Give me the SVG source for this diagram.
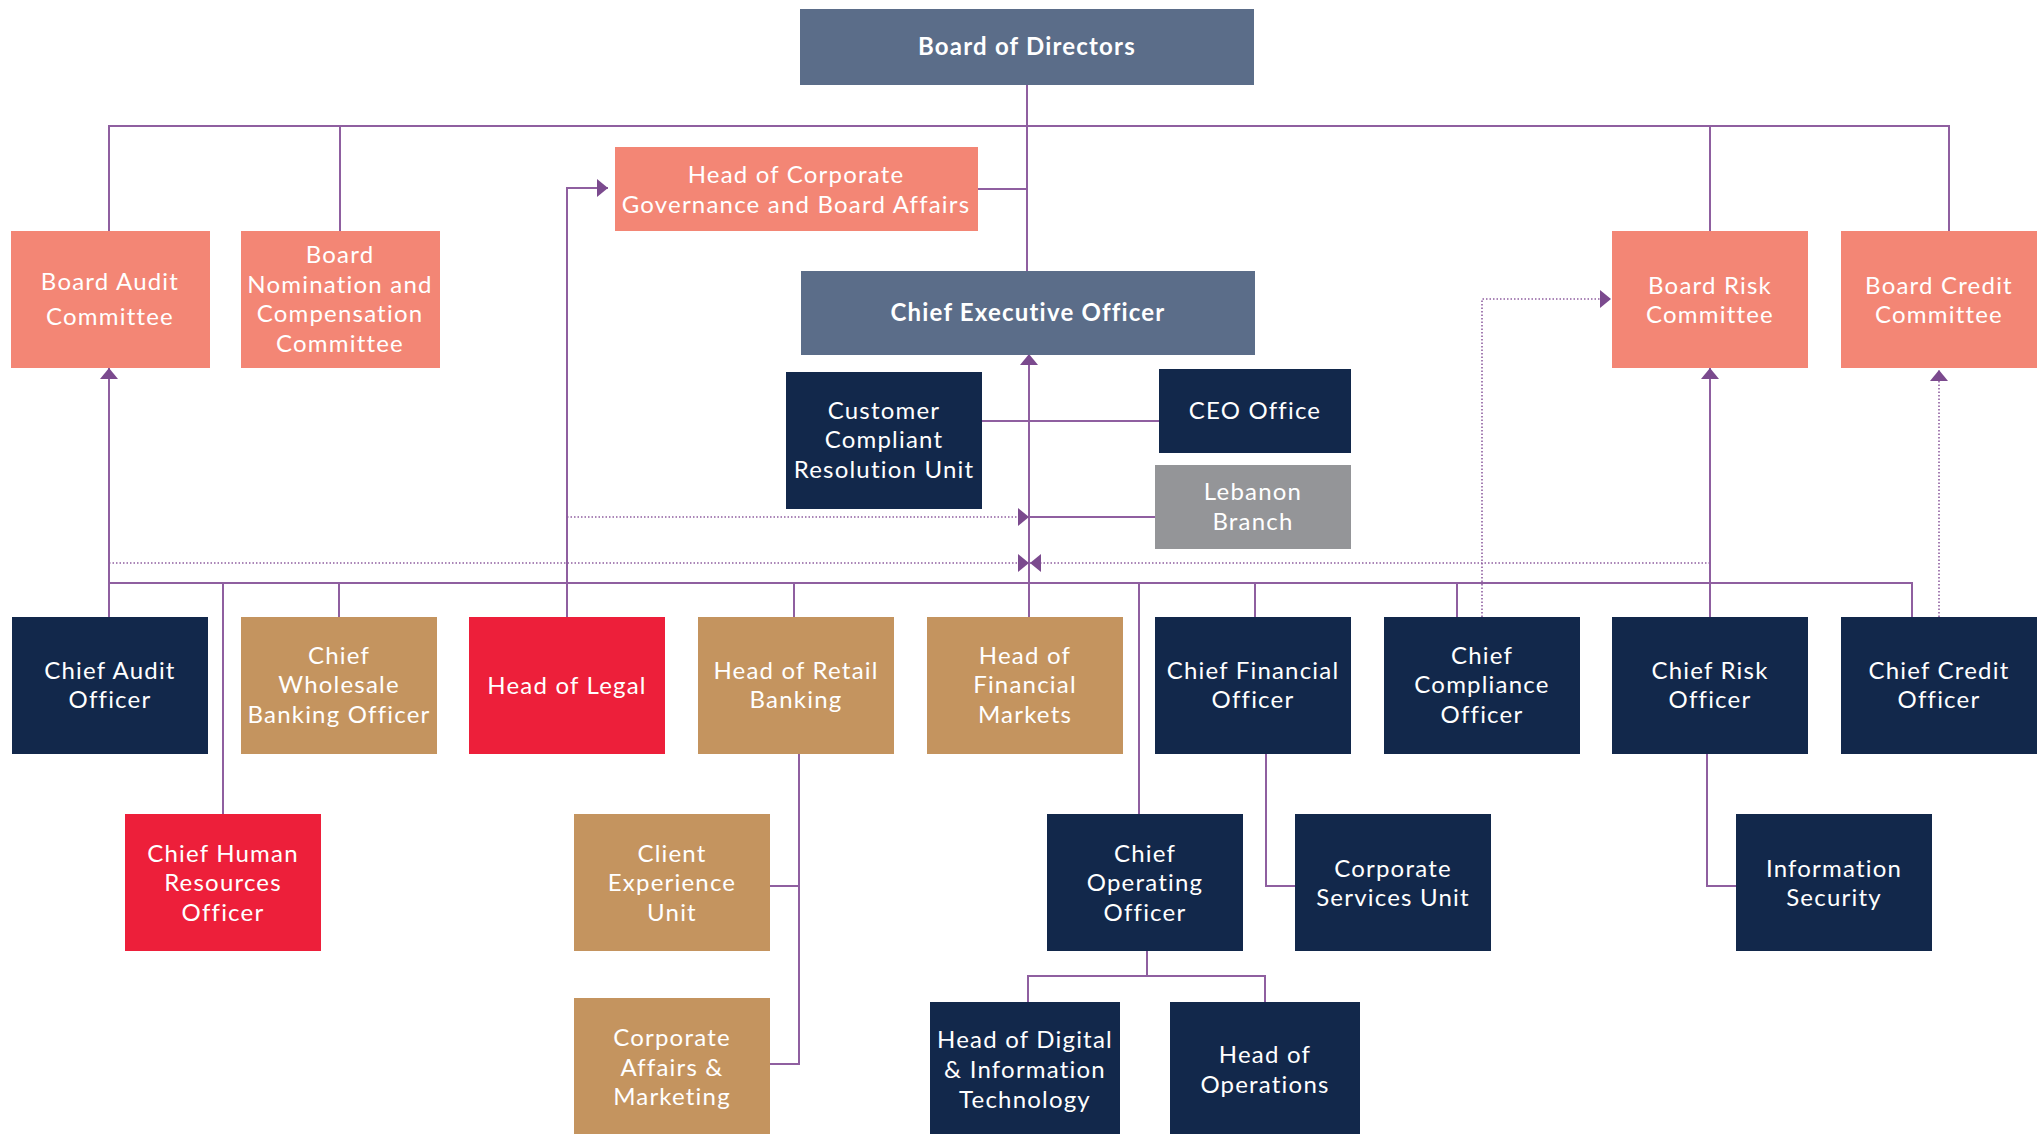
<svg xmlns="http://www.w3.org/2000/svg" width="2042" height="1134" viewBox="0 0 2042 1134">
<style>
.slate{fill:#5b6d89}.salmon{fill:#f38675}.navy{fill:#12284b}.tan{fill:#c4945f}.red{fill:#ed1f3a}.gray{fill:#949598}
text{font-family:Lato,"Open Sans","Liberation Sans",sans-serif;font-size:24px;letter-spacing:1.2px;fill:#ffffff;text-anchor:middle}
text.b{font-weight:bold}
.ln{fill:none;stroke:#8f5fa0;stroke-width:2}
.dt{fill:none;stroke:#8f5fa0;stroke-width:1.6;stroke-dasharray:1.5 2}
</style>
<defs>
<marker id="ah" markerUnits="userSpaceOnUse" markerWidth="11" markerHeight="18" refX="11" refY="9" orient="auto" viewBox="0 0 11 18">
<path d="M0,0 L11,9 L0,18 z" fill="#7b4a8e"/>
</marker>
</defs>
<g id="connectors">
<path class="ln" d="M1027,85 V271"/>
<path class="ln" d="M109,231 V126 H1949 V231"/>
<path class="ln" d="M340,126 V231"/>
<path class="ln" d="M1710,126 V231"/>
<path class="ln" d="M978,189 H1027"/>
<path class="ln" d="M567,617 V188 H608" marker-end="url(#ah)"/>
<path class="ln" d="M1029,617 V354" marker-end="url(#ah)"/>
<path class="ln" d="M982,421 H1159"/>
<path class="ln" d="M1155,517 H1029"/>
<path class="dt" d="M567,517 H1029" marker-end="url(#ah)"/>
<path class="dt" d="M109,563 H1029" marker-end="url(#ah)"/>
<path class="dt" d="M1710,563 H1030" marker-end="url(#ah)"/>
<path class="ln" d="M109,583 H1912 V617"/>
<path class="ln" d="M109,617 V368" marker-end="url(#ah)"/>
<path class="ln" d="M223,583 V814"/>
<path class="ln" d="M339,583 V617"/>
<path class="ln" d="M794,583 V617"/>
<path class="ln" d="M1139,583 V814"/>
<path class="ln" d="M1255,583 V617"/>
<path class="ln" d="M1457,583 V617"/>
<path class="ln" d="M1710,617 V368" marker-end="url(#ah)"/>
<path class="dt" d="M1482,617 V299 H1611" marker-end="url(#ah)"/>
<path class="dt" d="M1939,617 V370" marker-end="url(#ah)"/>
<path class="ln" d="M799,754 V1064 H770"/>
<path class="ln" d="M770,886 H799"/>
<path class="ln" d="M1266,754 V886 H1295"/>
<path class="ln" d="M1707,754 V886 H1736"/>
<path class="ln" d="M1147,951 V976"/>
<path class="ln" d="M1028,1002 V976 H1265 V1002"/>
</g>
<g id="bod"><rect class="slate" x="800" y="9" width="454" height="76"/><text class="b" x="1027" y="55">Board of Directors</text></g>
<g id="bac"><rect class="salmon" x="11" y="231" width="199" height="137"/><text x="110" y="290">Board Audit</text><text x="110" y="325">Committee</text></g>
<g id="bncc"><rect class="salmon" x="241" y="231" width="199" height="137"/><text x="340" y="263">Board</text><text x="340" y="293">Nomination and</text><text x="340" y="322">Compensation</text><text x="340" y="352">Committee</text></g>
<g id="hcg"><rect class="salmon" x="615" y="147" width="363" height="84"/><text x="796" y="183">Head of Corporate</text><text x="796" y="213">Governance and Board Affairs</text></g>
<g id="ceo"><rect class="slate" x="801" y="271" width="454" height="84"/><text class="b" x="1028" y="321">Chief Executive Officer</text></g>
<g id="brc"><rect class="salmon" x="1612" y="231" width="196" height="137"/><text x="1710" y="294">Board Risk</text><text x="1710" y="323">Committee</text></g>
<g id="bcc"><rect class="salmon" x="1841" y="231" width="196" height="137"/><text x="1939" y="294">Board Credit</text><text x="1939" y="323">Committee</text></g>
<g id="ccru"><rect class="navy" x="786" y="372" width="196" height="137"/><text x="884" y="419">Customer</text><text x="884" y="448">Compliant</text><text x="884" y="478">Resolution Unit</text></g>
<g id="ceooffice"><rect class="navy" x="1159" y="369" width="192" height="84"/><text x="1255" y="419">CEO Office</text></g>
<g id="lebanon"><rect class="gray" x="1155" y="465" width="196" height="84"/><text x="1253" y="500">Lebanon</text><text x="1253" y="530">Branch</text></g>
<g id="cao"><rect class="navy" x="12" y="617" width="196" height="137"/><text x="110" y="679">Chief Audit</text><text x="110" y="708">Officer</text></g>
<g id="cwbo"><rect class="tan" x="241" y="617" width="196" height="137"/><text x="339" y="664">Chief</text><text x="339" y="693">Wholesale</text><text x="339" y="723">Banking Officer</text></g>
<g id="legal"><rect class="red" x="469" y="617" width="196" height="137"/><text x="567" y="694">Head of Legal</text></g>
<g id="retail"><rect class="tan" x="698" y="617" width="196" height="137"/><text x="796" y="679">Head of Retail</text><text x="796" y="708">Banking</text></g>
<g id="fm"><rect class="tan" x="927" y="617" width="196" height="137"/><text x="1025" y="664">Head of</text><text x="1025" y="693">Financial</text><text x="1025" y="723">Markets</text></g>
<g id="cfo"><rect class="navy" x="1155" y="617" width="196" height="137"/><text x="1253" y="679">Chief Financial</text><text x="1253" y="708">Officer</text></g>
<g id="cco"><rect class="navy" x="1384" y="617" width="196" height="137"/><text x="1482" y="664">Chief</text><text x="1482" y="693">Compliance</text><text x="1482" y="723">Officer</text></g>
<g id="cro"><rect class="navy" x="1612" y="617" width="196" height="137"/><text x="1710" y="679">Chief Risk</text><text x="1710" y="708">Officer</text></g>
<g id="ccro"><rect class="navy" x="1841" y="617" width="196" height="137"/><text x="1939" y="679">Chief Credit</text><text x="1939" y="708">Officer</text></g>
<g id="chro"><rect class="red" x="125" y="814" width="196" height="137"/><text x="223" y="862">Chief Human</text><text x="223" y="891">Resources</text><text x="223" y="921">Officer</text></g>
<g id="ceu"><rect class="tan" x="574" y="814" width="196" height="137"/><text x="672" y="862">Client</text><text x="672" y="891">Experience</text><text x="672" y="921">Unit</text></g>
<g id="coo"><rect class="navy" x="1047" y="814" width="196" height="137"/><text x="1145" y="862">Chief</text><text x="1145" y="891">Operating</text><text x="1145" y="921">Officer</text></g>
<g id="csu"><rect class="navy" x="1295" y="814" width="196" height="137"/><text x="1393" y="877">Corporate</text><text x="1393" y="906">Services Unit</text></g>
<g id="infosec"><rect class="navy" x="1736" y="814" width="196" height="137"/><text x="1834" y="877">Information</text><text x="1834" y="906">Security</text></g>
<g id="cam"><rect class="tan" x="574" y="998" width="196" height="136"/><text x="672" y="1046">Corporate</text><text x="672" y="1076">Affairs &amp;</text><text x="672" y="1105">Marketing</text></g>
<g id="hod"><rect class="navy" x="930" y="1002" width="190" height="132"/><text x="1025" y="1048">Head of Digital</text><text x="1025" y="1078">&amp; Information</text><text x="1025" y="1108">Technology</text></g>
<g id="hoo"><rect class="navy" x="1170" y="1002" width="190" height="132"/><text x="1265" y="1063">Head of</text><text x="1265" y="1093">Operations</text></g>
</svg>
